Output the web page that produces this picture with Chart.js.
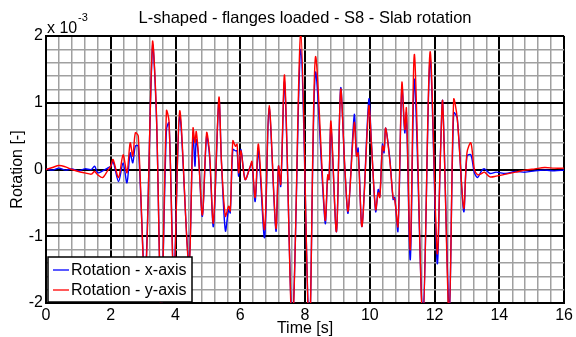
<!DOCTYPE html>
<html>
<head>
<meta charset="utf-8">
<script src="https://cdn.jsdelivr.net/npm/chart.js@4"></script>
<style>
  body { margin: 0; background: #fff; }
</style>
</head>
<body>
<canvas id="chart" width="576" height="337"></canvas>
<script>
// time [s] and rotations (in units of 1e-3)
const time = [
  0, 0.2, 0.4, 0.6, 0.8, 1.0, 1.2, 1.4, 1.5, 1.6, 1.75, 1.9,
  2.00, 2.07, 2.24, 2.38, 2.50, 2.60, 2.68, 2.76, 2.85, 3.06, 3.29, 3.41,
  3.56, 3.72, 3.80, 3.95, 4.13, 4.41, 4.54, 4.60, 4.64, 4.71, 4.83, 4.96,
  5.05, 5.17, 5.34, 5.42, 5.54, 5.64, 5.69, 5.77, 5.85, 5.90, 5.95, 6.02,
  6.15, 6.31, 6.36, 6.46, 6.56, 6.75, 6.89, 7.10, 7.18, 7.25, 7.37, 7.61,
  7.87, 8.13, 8.32, 8.62, 8.70, 8.74, 8.80, 8.97, 9.10, 9.23, 9.33, 9.52,
  9.59, 9.64, 9.76, 9.97, 10.05, 10.18, 10.26, 10.31, 10.39, 10.44, 10.49, 10.62,
  10.72, 10.77, 10.87, 10.99, 11.08, 11.13, 11.25, 11.38, 11.64, 11.86, 12.08, 12.18,
  12.25, 12.45, 12.59, 12.70, 12.90, 13.00, 13.12, 13.23, 13.33, 13.45, 13.54, 13.71,
  13.9, 14.2, 14.5, 14.8, 15.1, 15.4, 15.7, 16.0
];
const rotX = [
  0.01, -0.01, 0.02, -0.01, 0.01, -0.02, 0.01, 0.0, 0.05, -0.05, -0.02, 0.02,
  0.05, 0.12, -0.18, 0.10, -0.20, 0.25, 0.10, 0.35, 0.35, -1.65, 1.85, 0.80,
  -2.10, 0.60, 0.70, -1.60, 0.80, -1.40, 0.55, 0.05, 0.45, 0.20, -0.70, 0.50,
  0.20, -0.85, 1.05, 0.10, -0.92, -0.60, -0.65, 0.30, 0.28, 0.28, -0.10, 0.30,
  -0.15, 0.05, 0.10, -0.48, 0.28, -1.02, 0.92, -0.92, 0.05, -0.25, 1.30, -2.30,
  1.80, -2.40, 1.45, -0.80, -0.10, -0.15, 0.65, -0.93, 1.22, 0.00, -0.65, 0.82,
  0.20, 0.32, -0.85, 1.05, 0.40, -0.63, -0.30, -0.40, 0.38, 0.25, 0.62, 0.15,
  -0.45, -0.42, -0.92, 1.25, 0.55, 0.85, -1.35, 1.35, -2.20, 1.65, -1.40, 0.22,
  1.02, -2.10, 0.85, 0.77, -0.63, 0.20, 0.22, -0.05, -0.12, -0.02, 0.01, -0.06,
  -0.04, -0.06, -0.03, -0.04, -0.02, -0.01, -0.02, -0.01
];
const rotY = [
  0.0, 0.03, 0.06, 0.04, 0.0, -0.03, -0.05, -0.07, -0.03, -0.08, -0.12, -0.02,
  0.05, 0.15, -0.12, 0.22, -0.05, 0.40, 0.20, 0.55, 0.50, -1.75, 1.92, 0.85,
  -2.20, 0.88, 0.72, -1.70, 0.88, -1.45, 0.62, 0.40, 0.57, 0.20, -0.68, 0.55,
  0.25, -0.80, 1.08, 0.10, -0.70, -0.55, -0.62, 0.43, 0.35, 0.38, -0.05, 0.28,
  -0.15, 0.05, 0.12, -0.42, 0.38, -0.90, 0.96, -0.88, 0.05, -0.22, 1.40, -2.40,
  2.05, -2.50, 1.68, -0.75, -0.08, -0.15, 0.72, -0.93, 1.20, 0.02, -0.62, 0.70,
  0.20, 0.25, -0.85, 0.95, 0.38, -0.60, -0.35, -0.42, 0.35, 0.28, 0.62, 0.12,
  -0.42, -0.45, -0.85, 1.30, 0.60, 0.92, -1.20, 1.72, -2.30, 1.76, -1.25, 0.20,
  1.02, -2.20, 1.05, 0.77, -0.58, 0.25, 0.40, 0.0, -0.08, -0.06, -0.04, -0.11,
  -0.10, -0.07, -0.04, -0.01, 0.01, 0.03, 0.02, 0.02
];
const seriesNames = ["Rotation - x-axis", "Rotation - y-axis"];
const xTicks = [0, 2, 4, 6, 8, 10, 12, 14, 16];
const yTicks = [-2, -1, 0, 1, 2];

const FONT = "'Liberation Sans', Arial, sans-serif";

function isMajor(v, step) {
  return Math.abs(v / step - Math.round(v / step)) < 1e-6;
}

const extras = {
  id: "extras",
  afterDraw(chart) {
    const { ctx, chartArea } = chart;
    ctx.save();
    ctx.fillStyle = "#000";
    // title
    ctx.font = "16.5px " + FONT;
    ctx.textAlign = "center";
    ctx.textBaseline = "middle";
    ctx.fillText("L-shaped - flanges loaded - S8 - Slab rotation",
      (chartArea.left + chartArea.right) / 2, 18);
    // exponent
    ctx.textAlign = "left";
    ctx.textBaseline = "alphabetic";
    ctx.font = "16px " + FONT;
    ctx.fillText("x 10", 47, 33);
    ctx.font = "11px " + FONT;
    ctx.fillText("-3", 78, 21);
    // legend
    const lx = 48, ly = 257, lw = 144, lh = 45;
    ctx.fillStyle = "#fff";
    ctx.fillRect(lx, ly, lw, lh);
    ctx.strokeStyle = "#000";
    ctx.lineWidth = 1.5;
    ctx.strokeRect(lx, ly, lw, lh);
    const colors = ["#0000ff", "#ff0000"];
    ctx.font = "16px " + FONT;
    ctx.textBaseline = "middle";
    seriesNames.forEach((name, i) => {
      const y = 270 + i * 20;
      ctx.strokeStyle = colors[i];
      ctx.lineWidth = 1.3;
      ctx.beginPath();
      ctx.moveTo(53, y);
      ctx.lineTo(69, y);
      ctx.stroke();
      ctx.fillStyle = "#000";
      ctx.fillText(name, 71, y + 1);
    });
    ctx.restore();
  }
};

new Chart(document.getElementById("chart"), {
  type: "line",
  data: {
    datasets: [
      {
        label: seriesNames[0],
        data: time.map((t, i) => ({ x: t, y: rotX[i] })),
        borderColor: "#0000ff",
        borderWidth: 1.4,
        order: 1,
      },
      {
        label: seriesNames[1],
        data: time.map((t, i) => ({ x: t, y: rotY[i] })),
        borderColor: "#ff0000",
        borderWidth: 1.4,
        order: 0,
      },
    ],
  },
  options: {
    responsive: false,
    animation: false,
    layout: { padding: { top: 36, right: 10, left: 0, bottom: 0 } },
    elements: {
      point: { radius: 0 },
      line: { tension: 0.3 },
    },
    plugins: {
      legend: { display: false },
      tooltip: { enabled: false },
    },
    scales: {
      x: {
        type: "linear",
        min: 0,
        max: 16,
        afterFit: (s) => { s.height = 34; },
        afterBuildTicks: (s) => {
          const t = [];
          for (let i = 0; i <= 40; i++) t.push({ value: i * 0.4 });
          s.ticks = t;
        },
        ticks: {
          autoSkip: false,
          maxRotation: 0,
          padding: 3,
          color: "#000",
          font: { family: FONT, size: 16 },
          callback: (v) => (isMajor(v, 2) && xTicks.includes(Math.round(v)) ? String(Math.round(v)) : ""),
        },
        grid: {
          drawTicks: false,
          color: (c) => (isMajor(c.tick.value, 2) ? "#000" : "#a0a0a0"),
          lineWidth: (c) => (isMajor(c.tick.value, 2) ? 2 : 1.5),
        },
        border: { color: "#000", width: 2 },
        title: {
          display: true,
          text: "Time [s]",
          color: "#000",
          font: { family: FONT, size: 16, lineHeight: 1 },
          padding: 0,
        },
      },
      y: {
        min: -2,
        max: 2,
        afterFit: (s) => { s.width = 46; },
        afterBuildTicks: (s) => {
          const t = [];
          for (let i = 0; i <= 20; i++) t.push({ value: -2 + i * 0.2 });
          s.ticks = t;
        },
        ticks: {
          autoSkip: false,
          padding: 3,
          color: "#000",
          font: { family: FONT, size: 16 },
          callback: (v) => (isMajor(v, 1) && yTicks.includes(Math.round(v)) ? String(Math.round(v)) : ""),
        },
        grid: {
          drawTicks: false,
          color: (c) => (isMajor(c.tick.value, 1) ? "#000" : "#a0a0a0"),
          lineWidth: (c) => (isMajor(c.tick.value, 1) ? 2 : 1.5),
        },
        border: { color: "#000", width: 2 },
        title: {
          display: true,
          text: "Rotation [-]",
          color: "#000",
          font: { family: FONT, size: 16, lineHeight: 1 },
          padding: { top: 10, bottom: 0 },
        },
      },
    },
  },
  plugins: [extras],
});
</script>
</body>
</html>
